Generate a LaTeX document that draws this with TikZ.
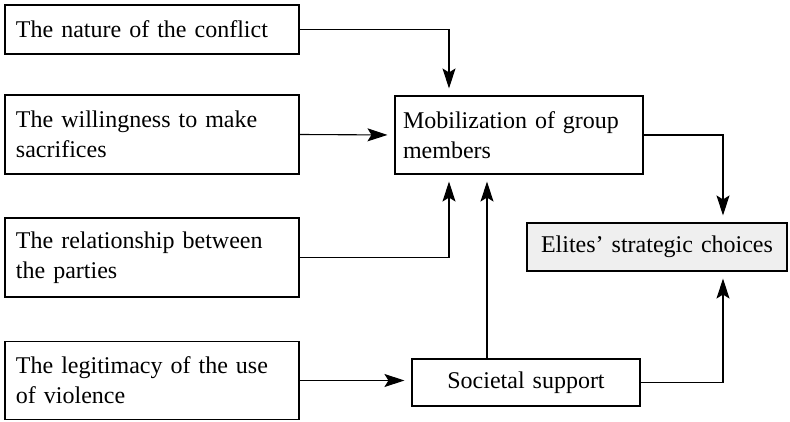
\documentclass[tikz,border=0pt]{standalone}
\usepackage{fontspec}
\setmainfont{Liberation Serif}
\usetikzlibrary{arrows.meta, positioning}
\definecolor{elitegray}{RGB}{239,239,239}
\hyphenpenalty=10000
\tikzstyle{factor} = [rectangle, text width=272pt, inner xsep=11pt, align=left, draw=black, line width=1.1pt, font=\fontsize{24}{30}\selectfont]
\tikzstyle{mediator} = [rectangle, inner xsep=8pt, draw=black, line width=1.1pt, font=\fontsize{24}{30}\selectfont]
\tikzstyle{arrow} = [line width=1.1pt, -{Stealth[length=20pt, width=13pt, inset=4pt]}, shorten >=7pt]

\begin{document}
\begin{tikzpicture}[x=1pt, y=-1pt, node distance=123pt]
    \useasboundingbox (0,0) rectangle (790,422);

    \node (nature) [factor, minimum height=49pt] at (152,29.5) {The nature of the conflict};
    \node (willing) [factor, minimum height=79pt, below of=nature, yshift=18pt] {The willingness to make sacrifices};
    \node (relation) [factor, minimum height=79pt, below of=willing] {The relationship between the parties};
    \node (legit) [factor, minimum height=78pt, below of=relation] {The legitimacy of the use of violence};

    \node (mobil) [mediator, text width=232pt, align=left, minimum height=78pt] at (519,135) {Mobilization of group members};
    \node (societal) [mediator, text width=212pt, align=center, minimum height=47pt] at (526,382.5) {Societal support};
    \node (elites) [mediator, inner xsep=3pt, text width=254pt, align=center, minimum height=48pt, fill=elitegray] at (657,247) {Elites’ strategic choices};

    \draw [arrow] (nature.east) -| ([xshift=-70pt]mobil.north);
    \draw [arrow] (willing.east) -- (mobil.west);
    \draw [arrow] (relation.east) -| ([xshift=-70pt]mobil.south);
    \draw [arrow] (legit.east) -- (legit.east -| societal.west);

    \draw [arrow] ([xshift=-39pt]societal.north) -- ([xshift=-39pt]societal.north |- mobil.south);

    \draw [arrow] (mobil.east) -| ([xshift=66pt]elites.north);
    \draw [arrow] (societal.east) -| ([xshift=66pt]elites.south);
\end{tikzpicture}
\end{document}
